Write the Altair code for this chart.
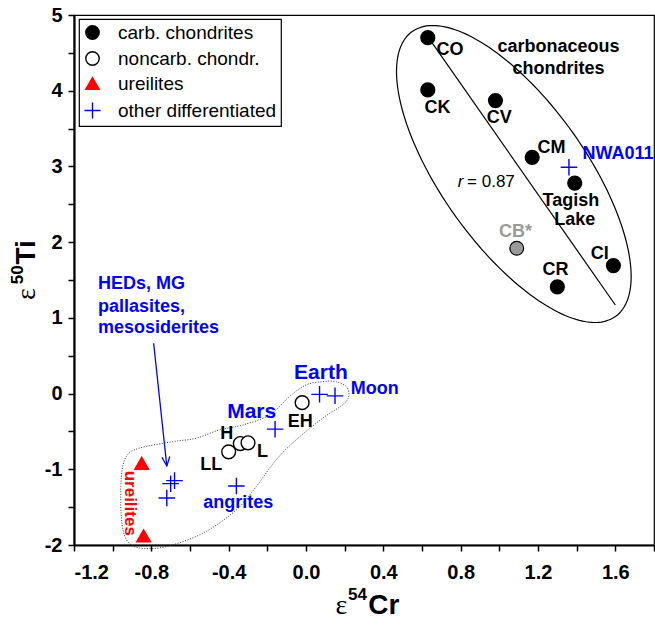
import altair as alt
import numpy as np
import pandas as pd

FONT = "Liberation Sans"
SERIF = "Liberation Serif"
BLUE = "#0000ff"
RED = "#ff0000"

# ---------------- data ----------------
GROUPS = ["carb. chondrites", "noncarb. chondr.", "ureilites", "other differentiated"]
SHAPES = ["circle", "circle", "triangle-up", "M-1.2,0L1.2,0M0,-1.2L0,1.2"]
STROKES = ["black", "black", RED, BLUE]
FILLS = ["black", "white", RED, "transparent"]

carb_names = ["CO", "CK", "CV", "CM", "Tagish Lake", "CI", "CR"]
carb_x = [0.63, 0.63, 0.98, 1.17, 1.39, 1.59, 1.30]
carb_y = [4.70, 4.01, 3.87, 3.12, 2.78, 1.69, 1.41]

cb_x = [1.09]
cb_y = [1.92]

noncarb_names = ["EH", "LL", "H", "L"]
noncarb_x = [-0.02, -0.40, -0.34, -0.30]
noncarb_y = [-0.12, -0.77, -0.66, -0.65]

ureilite_x = [-0.85, -0.84]
ureilite_y = [-0.92, -1.88]

diff_names = ["Earth", "Moon", "Mars", "angrites", "HED", "MG pallasite", "mesosiderite", "NWA011"]
diff_x = [0.07, 0.15, -0.16, -0.36, -0.68, -0.70, -0.72, 1.36]
diff_y = [-0.01, -0.03, -0.47, -1.22, -1.15, -1.19, -1.38, 2.99]

# regression line through carbonaceous chondrites
reg_x = [0.62, 1.60]
reg_y = [4.75, 1.17]

# confidence ellipse (centre in data units, semi-axes in px, angle in degrees)
ell_cx, ell_cy = 1.075, 2.90
ell_a, ell_b, ell_angle = 175, 72, 54.5

# dotted outline around non-carbonaceous bodies
out_x = [0.155, 0.215, 0.207, 0.086, -0.052, -0.155, -0.258, -0.361, -0.534, -0.723,
         -0.861, -0.929, -0.955, -0.955, -0.929, -0.861, -0.689, -0.568, -0.448, -0.327,
         -0.189, -0.086, 0.0, 0.086]
out_y = [0.157, 0.070, -0.107, -0.326, -0.613, -0.877, -1.230, -1.538, -1.845, -2.02,
         -2.04, -1.93, -1.63, -1.10, -0.83, -0.72, -0.635, -0.59, -0.48, -0.415,
         -0.283, -0.04, 0.114, 0.157]

# arrow from HED label to HED points
arrow_x = [-0.788, -0.72]
arrow_y = [0.664, -0.956]

# labels
black_t = ["CO", "CK", "CV", "CM", "Tagish", "Lake", "CI", "CR", "EH", "H", "L", "LL"]
black_x = [0.745, 0.68, 1.00, 1.27, 1.37, 1.39, 1.52, 1.29, -0.03, -0.41, -0.225, -0.49]
black_y = [4.54, 3.77, 3.64, 3.24, 2.54, 2.29, 1.85, 1.63, -0.38, -0.53, -0.77, -0.94]

cc_t = ["carbonaceous", "chondrites"]
cc_x = [1.306, 1.306]
cc_y = [4.58, 4.284]

big_blue_t = ["Earth", "Mars"]
big_blue_x = [0.077, -0.281]
big_blue_y = [0.276, -0.239]

blue_c_t = ["angrites"]
blue_c_x = [-0.35]
blue_c_y = [-1.44]

blue_l_t = ["Moon", "NWA011", "HEDs, MG", "pallasites,", "mesosiderites"]
blue_l_x = [0.232, 1.43, -1.076, -1.076, -1.076]
blue_l_y = [0.057, 3.17, 1.444, 1.148, 0.863]

# axis titles (epsilon notation with superscript mass numbers)
xt_eps = (0.152, -2.911)
xt_sup = ("54", 0.217, -2.726)
xt_el = ("Cr", 0.322, -2.911)
yt_eps = (-1.400, 1.236)
yt_sup = ("50", -1.462, 1.444)
yt_el = ("Ti", -1.400, 1.705)

X_TICKS = [-1.2, -1.0, -0.8, -0.6, -0.4, -0.2, 0.0, 0.2, 0.4, 0.6, 0.8, 1.0, 1.2, 1.4, 1.6, 1.8]
Y_TICKS = [-2, -1.5, -1, -0.5, 0, 0.5, 1, 1.5, 2, 2.5, 3, 3.5, 4, 4.5, 5]

W, H = 580, 530
X_DOMAIN = [-1.2, 1.8]
Y_DOMAIN = [-2, 5]
PX_X = W / (X_DOMAIN[1] - X_DOMAIN[0])
PX_Y = H / (Y_DOMAIN[1] - Y_DOMAIN[0])

# ---------------- encodings ----------------
X = alt.X("x:Q", scale=alt.Scale(domain=X_DOMAIN, nice=False, zero=False),
          axis=alt.Axis(values=X_TICKS, title=None,
                        labelExpr="round(datum.value*10) % 4 == 0 ? (datum.value < 0 ? '-' + format(-datum.value, '.1f') : format(datum.value, '.1f')) : ''",
                        labelPadding=11))
Y = alt.Y("y:Q", scale=alt.Scale(domain=Y_DOMAIN, nice=False, zero=False),
          axis=alt.Axis(values=Y_TICKS, title=None,
                        labelExpr="datum.value % 1 == 0 ? (datum.value < 0 ? '-' + (-datum.value) : '' + datum.value) : ''",
                        labelPadding=6))

# ellipse
t = np.linspace(0, 2 * np.pi, 181)
ang = np.radians(ell_angle)
dxp = ell_a * np.cos(t) * np.cos(ang) - ell_b * np.sin(t) * np.sin(ang)
dyp = ell_a * np.cos(t) * np.sin(ang) + ell_b * np.sin(t) * np.cos(ang)
ell_df = pd.DataFrame({"x": ell_cx + dxp / PX_X, "y": ell_cy - dyp / PX_Y, "o": np.arange(len(t))})

ellipse = alt.Chart(ell_df).mark_line(color="black", strokeWidth=1.2).encode(x=X, y=Y, order="o:Q")
reg = alt.Chart(pd.DataFrame({"x": reg_x, "y": reg_y})).mark_line(color="black", strokeWidth=1.2).encode(x=X, y=Y)

out_df = pd.DataFrame({"x": out_x, "y": out_y, "o": list(range(len(out_x)))})
outline = alt.Chart(out_df).mark_line(color="#333333", strokeWidth=1, strokeDash=[1, 1.6],
                                      interpolate="cardinal-closed").encode(x=X, y=Y, order="o:Q")

arrow_df = pd.DataFrame({"x": arrow_x, "y": arrow_y})
arrow = alt.Chart(arrow_df).mark_line(color=BLUE, strokeWidth=1.3).encode(x=X, y=Y)
arrow_head = alt.Chart(arrow_df.iloc[[1]]).mark_point(
    shape="M-0.7,-1.6L0,0L0.7,-1.6", size=130, filled=False, color=BLUE,
    strokeWidth=1.3, angle=354, opacity=1).encode(x=X, y=Y)

# main points
pts = pd.concat([
    pd.DataFrame({"x": carb_x, "y": carb_y, "grp": GROUPS[0]}),
    pd.DataFrame({"x": noncarb_x, "y": noncarb_y, "grp": GROUPS[1]}),
    pd.DataFrame({"x": ureilite_x, "y": ureilite_y, "grp": GROUPS[2]}),
    pd.DataFrame({"x": diff_x, "y": diff_y, "grp": GROUPS[3]}),
], ignore_index=True)

leg = alt.Legend(title=None, labelExpr="datum.label + '" + "\u00a0" * 8 + "'")
points = alt.Chart(pts).mark_point(size=190, strokeWidth=1.4, opacity=1, fillOpacity=1).encode(
    x=X, y=Y,
    shape=alt.Shape("grp:N", scale=alt.Scale(domain=GROUPS, range=SHAPES), legend=leg),
    stroke=alt.Stroke("grp:N", scale=alt.Scale(domain=GROUPS, range=STROKES), legend=leg),
    fill=alt.Fill("grp:N", scale=alt.Scale(domain=GROUPS, range=FILLS), legend=leg),
)

cb = alt.Chart(pd.DataFrame({"x": cb_x, "y": cb_y})).mark_point(
    shape="circle", size=190, filled=True, fill="#9a9a9a", stroke="black", strokeWidth=1.2,
    opacity=1).encode(x=X, y=Y)


def texts(tx, xx, yy, color="black", size=18, weight="bold", align="center", angle=0,
          style="normal", font=FONT, baseline="middle"):
    df = pd.DataFrame({"t": tx, "x": xx, "y": yy})
    return alt.Chart(df).mark_text(color=color, fontSize=size, fontWeight=weight, align=align,
                                   baseline=baseline, font=font, angle=angle,
                                   fontStyle=style).encode(x=X, y=Y, text="t:N")


layers = [
    ellipse, reg, outline, arrow, arrow_head, cb, points,
    texts(black_t, black_x, black_y),
    texts(cc_t, cc_x, cc_y),
    texts(["CB*"], [1.084], [2.139], color="#9a9a9a"),
    texts(["r"], [0.785], [2.80], weight="normal", align="left", size=17, style="italic"),
    texts(["= 0.87"], [0.833], [2.80], weight="normal", align="left", size=17),
    texts(big_blue_t, big_blue_x, big_blue_y, color=BLUE, size=21),
    texts(blue_c_t, blue_c_x, blue_c_y, color=BLUE),
    texts(blue_l_t, blue_l_x, blue_l_y, color=BLUE, align="left"),
    texts(["ureilites"], [-0.912], [-1.449], color=RED, size=17, angle=90),
    # x-axis title
    texts(["ε"], [xt_eps[0]], [xt_eps[1]], size=28, weight="normal", align="left",
          font=SERIF, baseline="alphabetic"),
    texts([xt_sup[0]], [xt_sup[1]], [xt_sup[2]], size=17, align="left", baseline="alphabetic"),
    texts([xt_el[0]], [xt_el[1]], [xt_el[2]], size=28, align="left", baseline="alphabetic"),
    # y-axis title
    texts(["ε"], [yt_eps[0]], [yt_eps[1]], size=28, weight="normal", align="left",
          font=SERIF, baseline="alphabetic", angle=270),
    texts([yt_sup[0]], [yt_sup[1]], [yt_sup[2]], size=17, align="left", baseline="alphabetic",
          angle=270),
    texts([yt_el[0]], [yt_el[1]], [yt_el[2]], size=28, align="left", baseline="alphabetic",
          angle=270),
]

chart = alt.layer(*layers).properties(
    width=W, height=H,
    autosize=alt.AutoSizeParams(type="none"),
    padding={"left": 74, "top": 15, "right": 1, "bottom": 81},
).configure_view(
    stroke="black", strokeWidth=1.2
).configure_axis(
    grid=False, domainColor="black", domainWidth=2.2, tickColor="black", tickWidth=1.5,
    tickSize=6, labelFont=FONT, labelFontSize=20, labelFontWeight="bold", labelColor="black",
).configure_legend(
    orient="none", legendX=5, legendY=4, strokeColor="black", strokeWidth=1.2,
    fillColor="white", padding=4, rowPadding=5, labelFont=FONT, labelFontSize=19,
    labelColor="black", labelOffset=16, symbolStrokeWidth=1.4, symbolSize=180,
)

chart.save("out.html", embed_options={"renderer": "svg", "actions": False})
